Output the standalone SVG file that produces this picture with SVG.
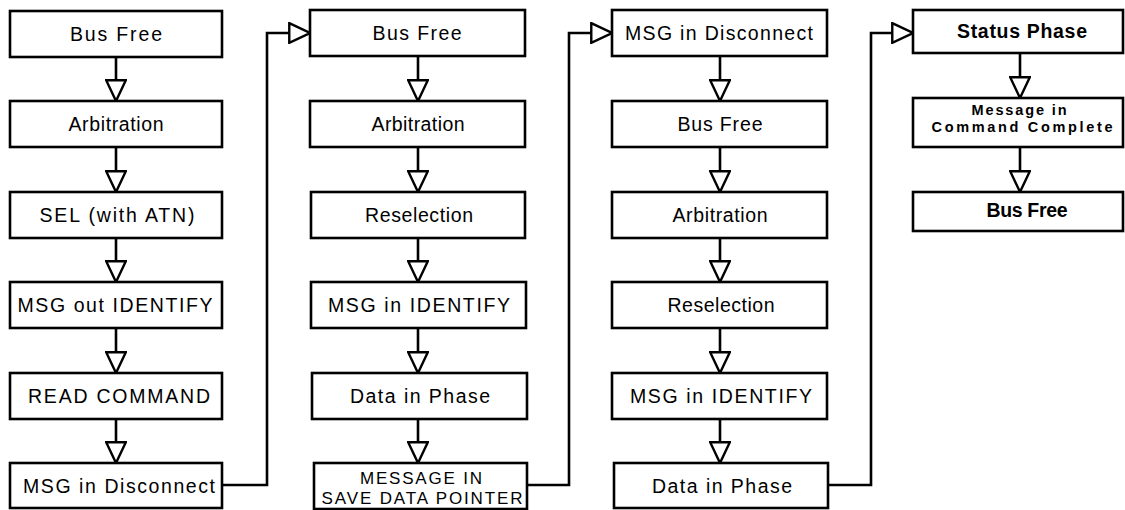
<svg xmlns="http://www.w3.org/2000/svg" width="1125" height="510" viewBox="0 0 1125 510">
<style>
.box{fill:#fff;stroke:#000;stroke-width:2.6}
.t{font-family:"Liberation Sans",Arial,sans-serif;font-size:19.5px;fill:#000;text-anchor:middle}
.b{font-weight:bold}
.m{font-size:17px}
.s{font-size:14.5px}
.c{fill:none;stroke:#000;stroke-width:2.6}
</style>
<defs>
<marker id="ah" markerUnits="userSpaceOnUse" markerWidth="24" markerHeight="22" refX="19" refY="9" orient="auto" viewBox="-1 -1 22 20">
<path d="M0,0 L19,9 L0,18 Z" fill="#fff" stroke="#000" stroke-width="2.2" stroke-linejoin="miter"/>
</marker>
</defs>
<rect width="1125" height="510" fill="#fff"/>
<g id="connectors">
<line class="c" x1="116" y1="57" x2="116" y2="101" marker-end="url(#ah)"/>
<line class="c" x1="116" y1="147" x2="116" y2="192" marker-end="url(#ah)"/>
<line class="c" x1="116" y1="238" x2="116" y2="282" marker-end="url(#ah)"/>
<line class="c" x1="116" y1="328" x2="116" y2="373" marker-end="url(#ah)"/>
<line class="c" x1="116" y1="419" x2="116" y2="463" marker-end="url(#ah)"/>
<path class="c" d="M222,485 H267 V33 H310" marker-end="url(#ah)"/>
<line class="c" x1="418" y1="56" x2="418" y2="101" marker-end="url(#ah)"/>
<line class="c" x1="418" y1="147" x2="418" y2="192" marker-end="url(#ah)"/>
<line class="c" x1="418" y1="238" x2="418" y2="282" marker-end="url(#ah)"/>
<line class="c" x1="418" y1="328" x2="418" y2="373" marker-end="url(#ah)"/>
<line class="c" x1="418" y1="419" x2="418" y2="463" marker-end="url(#ah)"/>
<path class="c" d="M527,485 H569 V33 H612" marker-end="url(#ah)"/>
<line class="c" x1="720" y1="56" x2="720" y2="101" marker-end="url(#ah)"/>
<line class="c" x1="720" y1="147" x2="720" y2="192" marker-end="url(#ah)"/>
<line class="c" x1="720" y1="238" x2="720" y2="282" marker-end="url(#ah)"/>
<line class="c" x1="720" y1="328" x2="720" y2="373" marker-end="url(#ah)"/>
<line class="c" x1="720" y1="419" x2="720" y2="463" marker-end="url(#ah)"/>
<path class="c" d="M827,485 H871 V33 H913" marker-end="url(#ah)"/>
<line class="c" x1="1020" y1="53" x2="1020" y2="98" marker-end="url(#ah)"/>
<line class="c" x1="1020" y1="147" x2="1020" y2="192" marker-end="url(#ah)"/>
</g>
<g id="c1-busfree"><rect class="box" x="10" y="11" width="212" height="46"/><text class="t" x="116" y="41" textLength="92">Bus Free</text></g>
<g id="c1-arbitration"><rect class="box" x="10" y="101" width="212" height="46"/><text class="t" x="116" y="131" textLength="95">Arbitration</text></g>
<g id="c1-sel"><rect class="box" x="10" y="192" width="212" height="46"/><text class="t" x="117" y="222" textLength="155">SEL (with ATN)</text></g>
<g id="c1-msgout"><rect class="box" x="10" y="282" width="212" height="46"/><text class="t" x="115" y="312" textLength="195">MSG out IDENTIFY</text></g>
<g id="c1-read"><rect class="box" x="10" y="373" width="212" height="46"/><text class="t" x="119" y="403" textLength="182">READ COMMAND</text></g>
<g id="c1-disconnect"><rect class="box" x="10" y="463" width="212" height="45"/><text class="t" x="119" y="493" textLength="192">MSG in Disconnect</text></g>
<g id="c2-busfree"><rect class="box" x="310" y="10" width="215" height="46"/><text class="t" x="417" y="40" textLength="89">Bus Free</text></g>
<g id="c2-arbitration"><rect class="box" x="310" y="101" width="215" height="46"/><text class="t" x="418" y="131" textLength="93">Arbitration</text></g>
<g id="c2-reselection"><rect class="box" x="311" y="192" width="214" height="46"/><text class="t" x="419" y="222" textLength="108">Reselection</text></g>
<g id="c2-msgin"><rect class="box" x="311" y="282" width="215" height="46"/><text class="t" x="419" y="312" textLength="182">MSG in IDENTIFY</text></g>
<g id="c2-data"><rect class="box" x="312" y="373" width="215" height="46"/><text class="t" x="420" y="403" textLength="140">Data in Phase</text></g>
<g id="c2-savedp"><rect class="box" x="314" y="463" width="213" height="46"/><text class="t m" x="421" y="484" textLength="122">MESSAGE IN</text><text class="t m" x="422" y="504" textLength="201">SAVE DATA POINTER</text></g>
<g id="c3-disconnect"><rect class="box" x="612" y="10" width="215" height="46"/><text class="t" x="719" y="40" textLength="188">MSG in Disconnect</text></g>
<g id="c3-busfree"><rect class="box" x="612" y="101" width="215" height="46"/><text class="t" x="720" y="131" textLength="85">Bus Free</text></g>
<g id="c3-arbitration"><rect class="box" x="612" y="192" width="215" height="46"/><text class="t" x="720" y="222" textLength="95">Arbitration</text></g>
<g id="c3-reselection"><rect class="box" x="612" y="282" width="215" height="46"/><text class="t" x="721" y="312" textLength="107">Reselection</text></g>
<g id="c3-msgin"><rect class="box" x="612" y="373" width="215" height="46"/><text class="t" x="721" y="403" textLength="182">MSG in IDENTIFY</text></g>
<g id="c3-data"><rect class="box" x="614" y="463" width="214" height="45"/><text class="t" x="722" y="493" textLength="140">Data in Phase</text></g>
<g id="c4-status"><rect class="box" x="913" y="10" width="210" height="43"/><text class="t b" x="1022" y="38" textLength="130">Status Phase</text></g>
<g id="c4-complete"><rect class="box" x="913" y="98" width="210" height="49"/><text class="t b s" x="1019" y="115" textLength="95">Message in</text><text class="t b s" x="1022" y="132" textLength="181">Command Complete</text></g>
<g id="c4-busfree"><rect class="box" x="913" y="192" width="210" height="39"/><text class="t b" x="1027" y="217" textLength="81">Bus Free</text></g>
</svg>
